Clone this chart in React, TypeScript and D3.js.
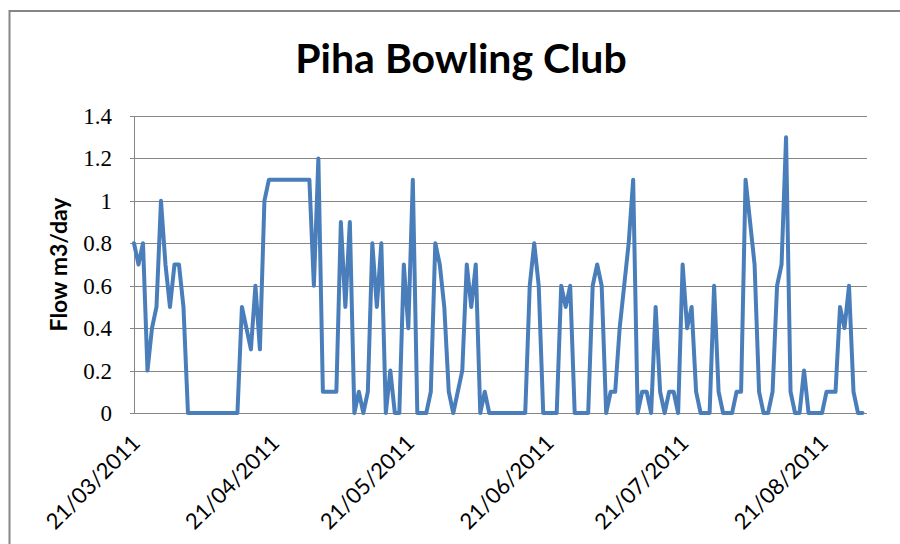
import React from "react";
import * as d3 from "d3";

// daily flow, m3/day, starting 21/03/2011
const startDay = new Date(2011, 2, 21);
const axisEnd = new Date(2011, 7, 31);
const flow = [
  0.8, 0.7, 0.8, 0.2, 0.4, 0.5, 1.0, 0.7, 0.5, 0.7,
  0.7, 0.5, 0, 0, 0, 0, 0, 0, 0, 0,
  0, 0, 0, 0, 0.5, 0.4, 0.3, 0.6, 0.3, 1.0,
  1.1, 1.1, 1.1, 1.1, 1.1, 1.1, 1.1, 1.1, 1.1, 1.1,
  0.6, 1.2, 0.1, 0.1, 0.1, 0.1, 0.9, 0.5, 0.9, 0,
  0.1, 0, 0.1, 0.8, 0.5, 0.8, 0, 0.2, 0, 0,
  0.7, 0.4, 1.1, 0, 0, 0, 0.1, 0.8, 0.7, 0.5,
  0.1, 0, 0.1, 0.2, 0.7, 0.5, 0.7, 0, 0.1, 0,
  0, 0, 0, 0, 0, 0, 0, 0, 0.6, 0.8,
  0.6, 0, 0, 0, 0, 0.6, 0.5, 0.6, 0, 0,
  0, 0, 0.6, 0.7, 0.6, 0, 0.1, 0.1, 0.4, 0.6,
  0.8, 1.1, 0, 0.1, 0.1, 0, 0.5, 0.1, 0, 0.1,
  0.1, 0, 0.7, 0.4, 0.5, 0.1, 0, 0, 0, 0.6,
  0.1, 0, 0, 0, 0.1, 0.1, 1.1, 0.9, 0.7, 0.1,
  0, 0, 0.1, 0.6, 0.7, 1.3, 0.1, 0, 0, 0.2,
  0, 0, 0, 0, 0.1, 0.1, 0.1, 0.5, 0.4, 0.6,
  0.1, 0, 0,
];

const yTicks = [0, 0.2, 0.4, 0.6, 0.8, 1, 1.2, 1.4];
const yTickLabels = ["0", "0.2", "0.4", "0.6", "0.8", "1", "1.2", "1.4"];
const xTickDates = [
  new Date(2011, 2, 21),
  new Date(2011, 3, 21),
  new Date(2011, 4, 21),
  new Date(2011, 5, 21),
  new Date(2011, 6, 21),
  new Date(2011, 7, 21),
];
const xTickLabels = ["21/03/2011", "21/04/2011", "21/05/2011", "21/06/2011", "21/07/2011", "21/08/2011"];

const W = 900;
const H = 544;
const plot = { left: 134, right: 867, top: 116, bottom: 413 };
const grid = "#868686";

export default function App() {
  const x = d3.scaleTime().domain([startDay, axisEnd]).range([plot.left, plot.right]);
  const y = d3.scaleLinear().domain([0, 1.4]).range([plot.bottom, plot.top]);

  const points = flow.map((v, i) => ({ date: d3.timeDay.offset(startDay, i), v }));
  const line = d3
    .line<{ date: Date; v: number }>()
    .x((d) => x(d.date))
    .y((d) => y(d.v));

  return (
    <div style={{ position: "absolute", left: 0, top: 0 }}>
      <svg width={W} height={H} style={{ display: "block", background: "#fff" }}>
        <rect x={9.5} y={11} width={W} height={H} fill="#fff" stroke={grid} strokeWidth={2} />

        <text
          x={461}
          y={73}
          textAnchor="middle"
          fontFamily="Lato, 'Open Sans', sans-serif"
          fontWeight="bold"
          fontSize={41}
          fill="#000"
        >
          Piha Bowling Club
        </text>

        {/* gridlines + y ticks */}
        {yTicks.map((t, i) => (
          <g key={t}>
            <line
              x1={plot.left - 4}
              x2={plot.right}
              y1={Math.round(y(t)) + 0.5}
              y2={Math.round(y(t)) + 0.5}
              stroke={grid}
              strokeWidth={1}
            />
            <text
              x={112}
              y={y(t)}
              dy="0.35em"
              textAnchor="end"
              fontFamily="'Liberation Serif', 'DejaVu Serif', serif"
              fontSize={23}
              fill="#000"
            >
              {yTickLabels[i]}
            </text>
          </g>
        ))}
        <line x1={plot.left + 0.5} x2={plot.left + 0.5} y1={plot.top} y2={plot.bottom} stroke={grid} />

        <text
          transform={`translate(67,${(plot.top + plot.bottom) / 2}) rotate(-90)`}
          textAnchor="middle"
          fontFamily="Lato, 'Open Sans', sans-serif"
          fontWeight="bold"
          fontSize={23}
          fill="#000"
        >
          Flow m3/day
        </text>

        {/* x labels */}
        {xTickDates.map((d, i) => (
          <text
            key={i}
            transform={`translate(${x(d) + 2},${plot.bottom + 26}) rotate(-45)`}
            textAnchor="end"
            dy="0.35em"
            fontFamily="Lato, 'Open Sans', sans-serif"
            fontSize={22}
            fill="#000"
          >
            {xTickLabels[i]}
          </text>
        ))}

        <path
          d={line(points) || ""}
          fill="none"
          stroke="#4a7ebb"
          strokeWidth={4}
          strokeLinejoin="round"
          strokeLinecap="round"
        />
      </svg>
    </div>
  );
}
